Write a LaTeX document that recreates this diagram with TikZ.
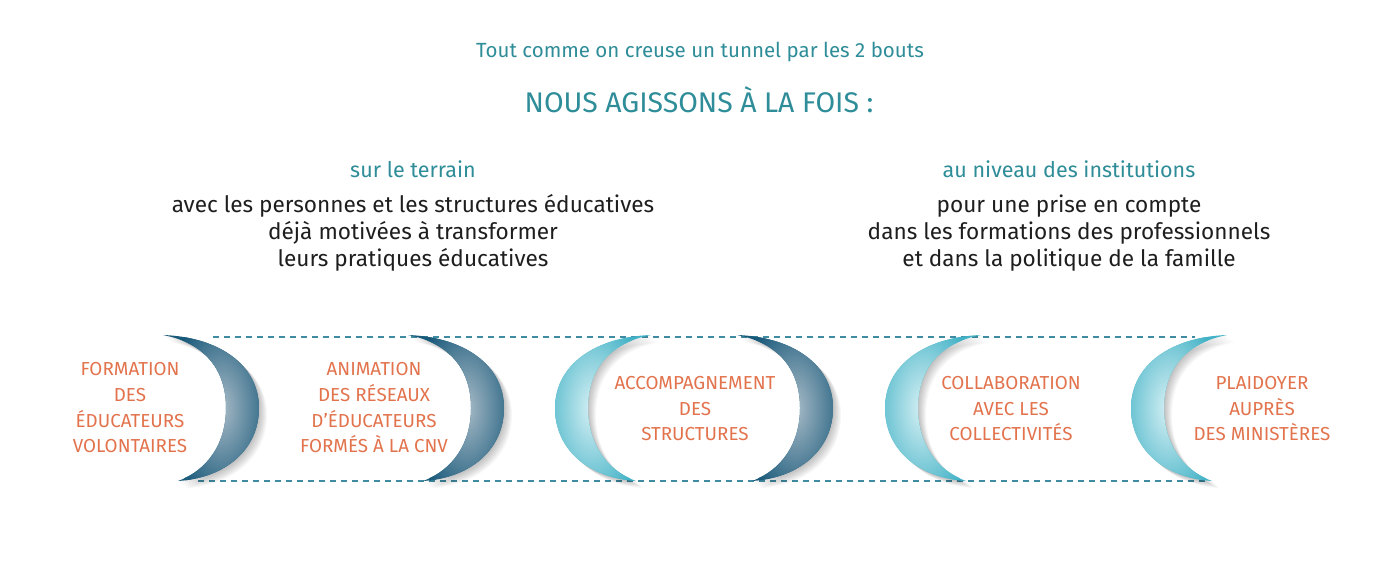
\documentclass[tikz,border=0pt]{standalone}
\usepackage{fontspec}
\setmainfont{Fira Sans}
\definecolor{teal1}{HTML}{2E8D98}
\definecolor{ink}{HTML}{1E1E1E}
\definecolor{orng}{HTML}{E2734D}
\definecolor{dk}{HTML}{19597A}
\definecolor{dkl}{HTML}{A8BBC7}
\definecolor{lt}{HTML}{43B2C6}
\definecolor{ltl}{HTML}{D8F1F5}
\definecolor{dashc}{HTML}{3F8CA2}
\tikzset{
  pics/crescent/.style n args={3}{code={
    \foreach \i in {1,...,8}{
      \fill[black,opacity=0.03,shift={(\i*1.0*#1,\i*0.9)}]
        (0,0) .. controls (56,2) and (96,30) .. (96,73) .. controls (96,115) and (62,143) .. (15,146)
        .. controls (45,135) and (63,108) .. (63,73) .. controls (63,35) and (42,8) .. cycle;
    }
    \fill[#2] (0,0) .. controls (56,2) and (96,30) .. (96,73) .. controls (96,115) and (62,143) .. (15,146)
        .. controls (45,135) and (63,108) .. (63,73) .. controls (63,35) and (42,8) .. cycle;
    \begin{scope}
      \clip (0,0) .. controls (56,2) and (96,30) .. (96,73) .. controls (96,115) and (62,143) .. (15,146)
        .. controls (45,135) and (63,108) .. (63,73) .. controls (63,35) and (42,8) .. cycle;
      \shade[inner color=#3, outer color=#2] (58,73) ellipse (54 and 96);
    \end{scope}
  }},
  dashline/.style={draw=dashc, line width=1.3pt, dash pattern=on 6pt off 5pt},
  toptxt/.style={text=teal1, anchor=base, inner sep=0pt, font=\fontsize{20.5}{24}\selectfont},
  bigtxt/.style={text=teal1, anchor=base, inner sep=0pt, font=\fontsize{28.4}{34}\selectfont},
  subtxt/.style={text=teal1, anchor=base, inner sep=0pt, font=\fontsize{21.5}{26}\selectfont},
  bodytxt/.style={text=ink, anchor=base, inner sep=0pt, font=\fontsize{22.6}{27}\selectfont},
  capstxt/.style={text=orng, anchor=base, inner sep=0pt, font=\fontsize{18.8}{22}\selectfont},
}
\begin{document}
\begin{tikzpicture}[x=1pt,y=-1pt]
\useasboundingbox[fill=white] (0,0) rectangle (1400,562);

% header
\node[toptxt] (tout) at (700,57) {Tout comme on creuse un tunnel par les 2 bouts};
\node[bigtxt] (nous) at (699,112) {NOUS AGISSONS À LA FOIS :};

% left column
\node[subtxt] (terrain) at (413,177) {sur le terrain};
\node[bodytxt] (la) at (413,212) {avec les personnes et les structures éducatives};
\node[bodytxt] (lb) at (413,239) {déjà motivées à transformer};
\node[bodytxt] (lc) at (413,266) {leurs pratiques éducatives};

% right column
\node[subtxt] (instit) at (1069,177) {au niveau des institutions};
\node[bodytxt] (ra) at (1069,212) {pour une prise en compte};
\node[bodytxt] (rb) at (1069,239) {dans les formations des professionnels};
\node[bodytxt] (rc) at (1069,266) {et dans la politique de la famille};

% dashed rails
\coordinate (dta) at (213,337);
\coordinate (dtb) at (1195,337);
\coordinate (dba) at (198,481);
\coordinate (dbb) at (1205,481);
\draw[dashline] (dta) -- (dtb);
\draw[dashline] (dba) -- (dbb);

% crescents
\pic (m1) at (163,335) {crescent={1}{dk}{dkl}};
\pic (m2) at (408,335) {crescent={1}{dk}{dkl}};
\pic[xscale=-1] (m3) at (651,335) {crescent={-1}{lt}{ltl}};
\pic (m4) at (737,335) {crescent={1}{dk}{dkl}};
\pic[xscale=-1] (m5) at (981,335) {crescent={-1}{lt}{ltl}};
\pic[xscale=-1] (m6) at (1227,335) {crescent={-1}{lt}{ltl}};

% block 1
\node[capstxt] (a1) at (130,375) {FORMATION};
\node[capstxt] (a2) at (130,401) {DES};
\node[capstxt] (a3) at (130,427) {ÉDUCATEURS};
\node[capstxt] (a4) at (130,452) {VOLONTAIRES};
% block 2
\node[capstxt] (b1) at (374,375) {ANIMATION};
\node[capstxt] (b2) at (374,401) {DES RÉSEAUX};
\node[capstxt] (b3) at (374,427) {D’ÉDUCATEURS};
\node[capstxt] (b4) at (374,452) {FORMÉS À LA CNV};
% block 3
\node[capstxt] (c1) at (695,389) {ACCOMPAGNEMENT};
\node[capstxt] (c2) at (695,415) {DES};
\node[capstxt] (c3) at (695,440) {STRUCTURES};
% block 4
\node[capstxt] (e1) at (1011,389) {COLLABORATION};
\node[capstxt] (e2) at (1011,415) {AVEC LES};
\node[capstxt] (e3) at (1011,440) {COLLECTIVITÉS};
% block 5
\node[capstxt] (f1) at (1262,389) {PLAIDOYER};
\node[capstxt] (f2) at (1262,415) {AUPRÈS};
\node[capstxt] (f3) at (1262,440) {DES MINISTÈRES};
\end{tikzpicture}
\end{document}
